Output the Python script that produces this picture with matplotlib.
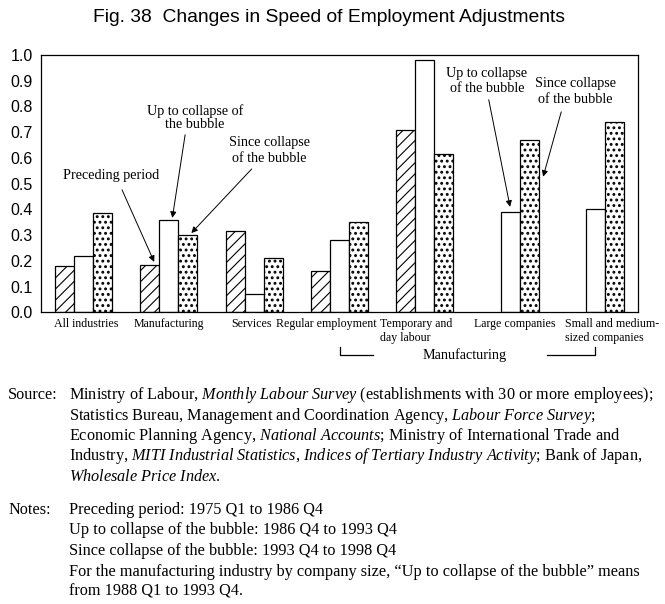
import numpy as np
import matplotlib.pyplot as plt
import matplotlib.transforms as mtransforms

plt.rcParams['mathtext.fontset'] = 'custom'
plt.rcParams['mathtext.rm'] = 'Liberation Serif'
plt.rcParams['mathtext.it'] = 'Liberation Serif:italic'

# data
categories = ["All industries", "Manufacturing", "Services", "Regular employment",
              "Temporary and\nday labour", "Large companies",
              "Small and medium-\nsized companies"]
preceding = [0.18, 0.185, 0.315, 0.16, 0.71, np.nan, np.nan]
up_to_collapse = [0.22, 0.36, 0.07, 0.28, 0.98, 0.39, 0.40]
since_collapse = [0.385, 0.30, 0.21, 0.35, 0.615, 0.67, 0.74]
yticks = [0.0, 0.1, 0.2, 0.3, 0.4, 0.5, 0.6, 0.7, 0.8, 0.9, 1.0]

title = "Fig. 38  Changes in Speed of Employment Adjustments"
source_lines = [
    r"Ministry of Labour, $\mathit{Monthly\ Labour\ Survey}$ (establishments with 30 or more employees);",
    r"Statistics Bureau, Management and Coordination Agency, $\mathit{Labour\ Force\ Survey}$;",
    r"Economic Planning Agency, $\mathit{National\ Accounts}$; Ministry of International Trade and",
    r"Industry, $\mathit{MITI\ Industrial\ Statistics}$, $\mathit{Indices\ of\ Tertiary\ Industry\ Activity}$; Bank of Japan,",
    r"$\mathit{Wholesale\ Price\ Index}$.",
]
note_lines = [
    "Preceding period: 1975 Q1 to 1986 Q4",
    "Up to collapse of the bubble: 1986 Q4 to 1993 Q4",
    "Since collapse of the bubble: 1993 Q4 to 1998 Q4",
    "For the manufacturing industry by company size, \u201cUp to collapse of the bubble\u201d means",
    "from 1988 Q1 to 1993 Q4.",
]

W, H = 665, 604
fig = plt.figure(figsize=(W / 100, H / 100), dpi=100)


def fx(px):
    return px / W


def fy(py):
    return 1 - py / H


ax = fig.add_axes([fx(41), fy(312.3), fx(597), 257.3 / H])

x = np.arange(len(categories))
w = 0.223
plt.rcParams['hatch.linewidth'] = 0.8
ax.bar(x - w, preceding, w, facecolor='white', edgecolor='black', hatch='///', lw=0.9)
ax.bar(x, up_to_collapse, w, facecolor='white', edgecolor='black', lw=0.9)
dots = ax.bar(x + w, since_collapse, w, facecolor='white', edgecolor='black',
              hatch='...', lw=0.9)
for b in dots:
    if hasattr(b, 'set_hatch_linewidth'):
        b.set_hatch_linewidth(1.3)

ax.set_xlim(-0.5, len(categories) - 0.5)
ax.set_ylim(0, 1.0)
ax.set_yticks(yticks)
ax.set_yticklabels(["%.1f" % v for v in yticks], family='Liberation Sans', fontsize=11.5)
ax.tick_params(axis='y', length=0, pad=6)
ax.set_xticks([])
for s in ax.spines.values():
    s.set_linewidth(0.9)

# category labels
serif = 'Liberation Serif'
trans = mtransforms.blended_transform_factory(ax.transData, ax.transAxes)
label_dx = [0.03, 0.0, -0.03, -0.16, -0.53, 0.06, -0.36]
label_ha = ['center', 'center', 'center', 'center', 'left', 'center', 'left']
for i, lab in enumerate(categories):
    ax.text(x[i] + label_dx[i], -0.024, lab, transform=trans, ha=label_ha[i], va='top',
            family=serif, fontsize=8.6, linespacing=1.15, clip_on=False)

# "Manufacturing" bracket under the last four groups
yb0, yb1 = -0.135, -0.166
ax.plot([x[3], x[3], x[3] + 0.39], [yb0, yb1, yb1], color='black', lw=0.9,
        transform=trans, clip_on=False)
ax.plot([x[6] - 0.57, x[6], x[6]], [yb1, yb1, yb0], color='black', lw=0.9,
        transform=trans, clip_on=False)
ax.text((x[3] + x[6]) / 2 - 0.03, yb1, "Manufacturing", transform=trans, ha='center',
        va='center', family=serif, fontsize=10.2)

# annotations with arrows
arrow = dict(arrowstyle='-|>', color='black', lw=0.7, mutation_scale=9,
             shrinkA=0, shrinkB=0)
afs = 10.2
ax.text(0.32, 0.530, "Preceding period", ha='center', va='center', family=serif, fontsize=afs)
ax.annotate('', xy=(x[1] - w + 0.05, preceding[1] + 0.011), xytext=(0.45, 0.476),
            arrowprops=arrow)
ax.text(1.305, 0.756, "Up to collapse of\nthe bubble", ha='center', va='center',
        family=serif, fontsize=afs, linespacing=1.05)
ax.annotate('', xy=(x[1] + 0.04, up_to_collapse[1] + 0.007), xytext=(1.19, 0.69),
            arrowprops=arrow)
ax.text(2.18, 0.628, "Since collapse\nof the bubble", ha='center', va='center',
        family=serif, fontsize=afs, linespacing=1.25)
ax.annotate('', xy=(x[1] + w + 0.04, since_collapse[1] + 0.008), xytext=(1.97, 0.557),
            arrowprops=arrow)
ax.text(4.73, 0.898, "Up to collapse\nof the bubble", ha='center', va='center',
        family=serif, fontsize=afs, linespacing=1.25)
ax.annotate('', xy=(x[5], up_to_collapse[5] + 0.02), xytext=(4.75, 0.826),
            arrowprops=arrow)
ax.text(5.77, 0.859, "Since collapse\nof the bubble", ha='center', va='center',
        family=serif, fontsize=afs, linespacing=1.25)
ax.annotate('', xy=(x[5] + w + 0.165, 0.527), xytext=(5.60, 0.779),
            arrowprops=arrow)

# title
fig.text(fx(329), fy(17), title, ha='center', va='center', family='Liberation Sans',
         fontsize=13.9)

# source and notes
tfs = 11.7
step = 20.5
y0 = 399
fig.text(fx(8), fy(y0), "Source:", family=serif, fontsize=tfs, va='baseline')
for i, line in enumerate(source_lines):
    fig.text(fx(69), fy(y0 + i * step), line, family=serif, fontsize=tfs, va='baseline')
y1 = 514
fig.text(fx(8), fy(y1), "Notes:", family=serif, fontsize=tfs, va='baseline')
for i, line in enumerate(note_lines):
    fig.text(fx(69), fy(y1 + i * step), line, family=serif, fontsize=tfs, va='baseline')

fig.savefig("out.png", dpi=100)
